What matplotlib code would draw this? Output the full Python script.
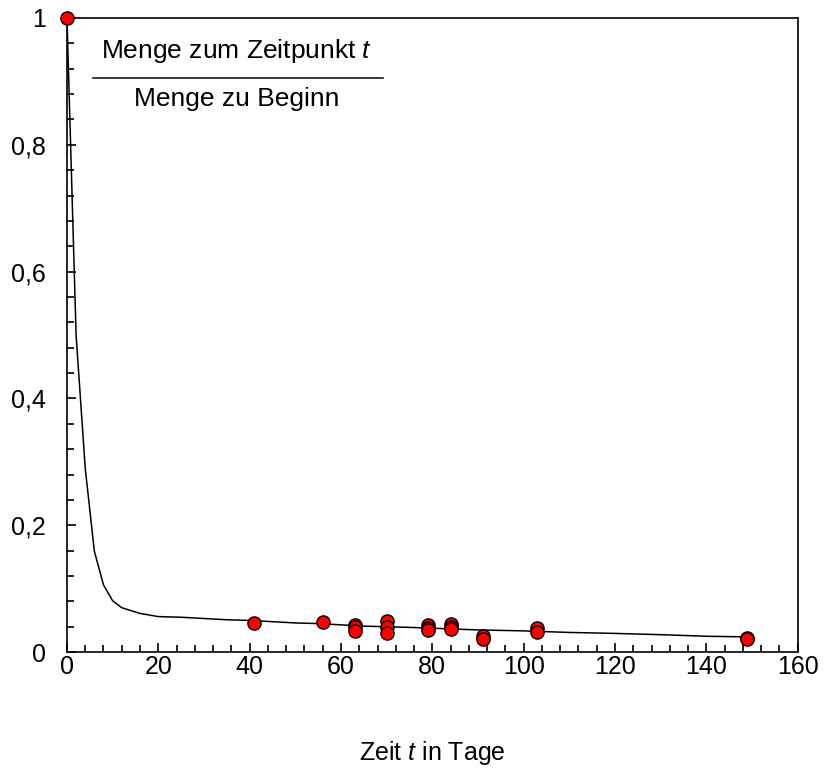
import matplotlib
matplotlib.use("Agg")
import matplotlib.pyplot as plt
from matplotlib.ticker import MultipleLocator, FuncFormatter

plt.rcParams["font.family"] = ["Liberation Sans", "DejaVu Sans"]
plt.rcParams["mathtext.fontset"] = "custom"
plt.rcParams["mathtext.rm"] = "Liberation Sans"
plt.rcParams["mathtext.it"] = "Liberation Sans:italic"

# fitted curve
curve_t = [0, 2, 4, 6, 8, 10, 12, 16, 20, 25, 30, 35, 40, 45, 50, 55, 60,
           65, 70, 75, 80, 90, 100, 110, 120, 130, 140, 149]
curve_v = [1.0, 0.50, 0.29, 0.159, 0.106, 0.081, 0.070, 0.061, 0.056, 0.055,
           0.053, 0.051, 0.050, 0.048, 0.046, 0.045, 0.043, 0.041, 0.040,
           0.039, 0.0377, 0.035, 0.0335, 0.031, 0.0295, 0.0275, 0.025, 0.024]

# measurements
days = [0, 41, 56, 63, 63, 63, 70, 70, 70, 79, 79, 79, 84, 84, 84,
        91, 91, 103, 103, 149, 149]
ratio = [1.0, 0.046, 0.048, 0.043, 0.039, 0.034, 0.049, 0.040, 0.030,
         0.043, 0.038, 0.035, 0.044, 0.040, 0.036, 0.026, 0.021,
         0.038, 0.032, 0.023, 0.021]

fig = plt.figure(figsize=(8.37, 7.69), dpi=100)
ax = fig.add_axes([0.080, 0.152, 0.873, 0.8246])

ax.plot(curve_t, curve_v, color="black", linewidth=1.1, zorder=2)
ax.plot(days, ratio, linestyle="none", marker="o", markersize=9.5,
        markerfacecolor="#ff0000", markeredgecolor="black",
        markeredgewidth=1.0, clip_on=False, zorder=3)

ax.set_xlim(0, 160)
ax.set_ylim(0, 1)
ax.xaxis.set_major_locator(MultipleLocator(20))
ax.xaxis.set_minor_locator(MultipleLocator(4))
ax.yaxis.set_major_locator(MultipleLocator(0.2))
ax.yaxis.set_minor_locator(MultipleLocator(0.04))

fmt = FuncFormatter(lambda v, p: ("%g" % round(v, 2)).replace(".", ","))
ax.yaxis.set_major_formatter(fmt)

ax.tick_params(axis="both", which="both", direction="in", top=False,
               right=False, width=1.2, labelsize=18)
ax.tick_params(axis="both", which="major", length=6.5)
ax.tick_params(axis="both", which="minor", length=4.8)
ax.tick_params(axis="x", pad=2)
ax.tick_params(axis="y", pad=15)
for spine in ax.spines.values():
    spine.set_linewidth(1.2)

ax.set_xlabel("Zeit $t$ in Tage", fontsize=18, labelpad=43)

# fraction label in the upper left
ax.text(0.2326, 0.948, "Menge zum Zeitpunkt $t$", transform=ax.transAxes,
        ha="center", va="center", fontsize=19)
ax.plot([0.0356, 0.4329], [0.905, 0.905], color="black", linewidth=1.1,
        transform=ax.transAxes)
ax.text(0.2326, 0.872, "Menge zu Beginn", transform=ax.transAxes,
        ha="center", va="center", fontsize=19)

fig.savefig("out.png", dpi=100, facecolor="white")
